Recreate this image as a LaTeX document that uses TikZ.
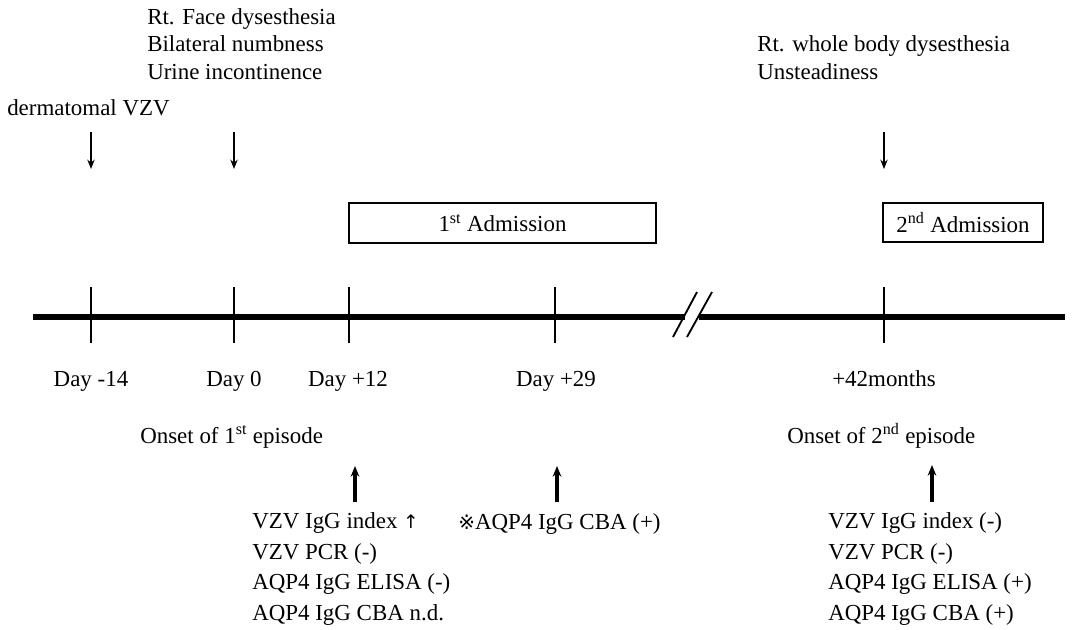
\documentclass[tikz,border=0pt]{standalone}
\usepackage{fontspec}
\setmainfont{Liberation Serif}
\newfontfamily\symfont{DejaVu Sans}
\usetikzlibrary{positioning,arrows.meta}
\tikzset{>=stealth}
\tikzset{
  txt/.style={inner sep=0pt, align=left, anchor=base west, font=\fontsize{17.2}{20.6}\selectfont},
  res/.style={txt, font=\fontsize{17.2}{22.8}\selectfont},
  daylbl/.style={inner sep=0pt, anchor=base, font=\fontsize{17.2}{20}\selectfont},
  admbox/.style={draw, line width=1.3pt, inner sep=0pt, font=\fontsize{17.2}{20}\selectfont},
  dayline/.style={line width=1.6pt},
  downarr/.style={-{Stealth[length=7pt,width=5.5pt]}, line width=1.5pt},
  uparr/.style={-{Stealth[length=8pt,width=6.5pt]}, line width=2.3pt},
}

\begin{document}
\begin{tikzpicture}[x=0.75pt,y=-0.75pt]
\useasboundingbox (0,0) rectangle (1074,629);

\coordinate (start) at (33,317);
\coordinate (brkL) at (685,317);
\coordinate (brkR) at (699,317);
\coordinate (stop) at (1065,317);
\draw[line width=3.8pt] (start) -- (brkL);
\draw[line width=3.8pt] (brkR) -- (stop);
\draw[line width=1.4pt] (673,337) -- (697,292);
\draw[line width=1.4pt] (687,337) -- (712,292);

\foreach \x/\n in {91/dm14,234/d0,349/d12,555/d29,884/m42}{
  \coordinate (\n) at (\x,317);
  \draw[dayline] (\x,287) -- (\x,343);
}

\node[daylbl] (l1) at (91,386) {Day -14};
\node[daylbl] (l2) at (234,386) {Day 0};
\node[daylbl] (l3) at (348,386) {Day +12};
\node[daylbl] (l4) at (556,386) {Day +29};
\node[daylbl] (l5) at (884,386) {+42months};

\node[txt] (vzv) at (7,115) {dermatomal VZV};
\node[txt] (sym1) at (147,79) {Rt. Face dysesthesia\\Bilateral numbness\\Urine incontinence};
\node[txt] (sym2) at (757,79) {Rt. whole body dysesthesia\\Unsteadiness};

\coordinate (a1) at (91,132);  \coordinate (a1e) at (91,169);
\coordinate (a2) at (234,132); \coordinate (a2e) at (234,169);
\coordinate (a3) at (884,132); \coordinate (a3e) at (884,169);
\draw[downarr] (a1) -- (a1e);
\draw[downarr] (a2) -- (a2e);
\draw[downarr] (a3) -- (a3e);

\node[admbox, minimum width=230.25pt, minimum height=30pt] (adm1) at (502.5,223) {1\textsuperscript{st} Admission};
\node[admbox, minimum width=120pt, minimum height=29.25pt] (adm2) at (963,222.5) {2\textsuperscript{nd} Admission};

\node[txt] (on1) at (140,443) {Onset of 1\textsuperscript{st} episode};
\node[txt] (on2) at (787,443) {Onset of 2\textsuperscript{nd} episode};

\coordinate (b1) at (355,502); \coordinate (b1e) at (355,466);
\coordinate (b2) at (557,502); \coordinate (b2e) at (557,466);
\coordinate (b3) at (932,502); \coordinate (b3e) at (932,465);
\draw[uparr] (b1) -- (b1e);
\draw[uparr] (b2) -- (b2e);
\draw[uparr] (b3) -- (b3e);

\node[res] (res1) at (252,620) {VZV IgG index {\symfont\fontsize{14}{16}\selectfont ↑}\\VZV PCR (-)\\AQP4 IgG ELISA (-)\\AQP4 IgG CBA n.d.};
\node[res] (res2) at (458,529) {{\symfont\fontsize{15}{16}\selectfont ※}AQP4 IgG CBA (+)};
\node[res] (res3) at (828,620) {VZV IgG index (-)\\VZV PCR (-)\\AQP4 IgG ELISA (+)\\AQP4 IgG CBA (+)};
\end{tikzpicture}
\end{document}
